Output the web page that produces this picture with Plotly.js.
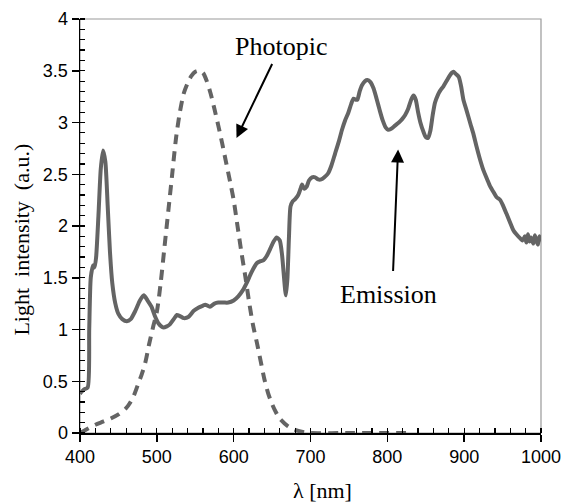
<!DOCTYPE html>
<html><head><meta charset="utf-8">
<script src="https://cdn.plot.ly/plotly-3.0.1.min.js"></script>
<style>html,body{margin:0;padding:0;background:#fff}#chart{width:568px;height:504px}</style>
</head><body><div id="chart"></div><script>
const emissionWavelength = [400,405,410,412,414,417,419,421,424,427,430,433,436,439,442,446,450,455,461,466,472,478,483,488,493,498,502,508,513,517,522,526,530,535,541,548,554,560,563,569,575,580,587,593,600,606,612,617,623,630,635,639,643,647,652,656,660,663,665,667,668,670,672,674,677,680,684,687,689,692,695,698,702,706,710,714,718,723,727,732,737,741,745,749,753,756,759,761,764,767,771,774,778,782,786,790,794,798,801,805,810,815,819,823,827,831,834,837,840,843,847,850,853,856,859,862,866,869,873,877,881,884,886,889,893,896,899,903,908,912,916,920,925,930,934,938,942,947,951,955,960,964,968,973,976,979,981,983,985,987,990,992,994,996,998,1000];
const emissionIntensity = [0.38,0.42,0.44,1.0,1.5,1.62,1.60,1.70,2.1,2.55,2.73,2.62,2.2,1.75,1.45,1.25,1.15,1.10,1.08,1.10,1.18,1.28,1.33,1.28,1.22,1.12,1.06,1.02,1.03,1.05,1.10,1.14,1.13,1.11,1.12,1.18,1.21,1.23,1.24,1.22,1.25,1.26,1.26,1.26,1.28,1.32,1.38,1.45,1.55,1.64,1.66,1.67,1.71,1.77,1.85,1.89,1.86,1.72,1.55,1.38,1.33,1.50,1.90,2.19,2.24,2.26,2.30,2.36,2.40,2.36,2.38,2.44,2.47,2.47,2.45,2.45,2.47,2.51,2.58,2.70,2.82,2.93,3.02,3.09,3.18,3.23,3.22,3.22,3.30,3.36,3.40,3.41,3.39,3.33,3.23,3.12,3.02,2.95,2.93,2.94,2.97,3.00,3.03,3.07,3.13,3.22,3.26,3.22,3.10,3.00,2.91,2.86,2.85,2.92,3.07,3.19,3.27,3.31,3.35,3.40,3.45,3.48,3.49,3.47,3.44,3.35,3.22,3.12,2.99,2.89,2.77,2.66,2.54,2.45,2.38,2.33,2.28,2.25,2.19,2.12,2.03,1.96,1.92,1.88,1.86,1.90,1.84,1.92,1.85,1.89,1.83,1.91,1.86,1.82,1.90,1.85];
const photopicWavelength = [400,410,420,430,440,450,460,465,470,475,480,485,490,495,500,505,510,515,520,525,530,535,540,545,550,555,560,565,570,575,580,585,590,595,600,605,610,615,620,625,630,635,640,645,650,655,660,670,680,690,700,750,800,830];
const photopicIntensity = [0.00,0.04,0.08,0.11,0.14,0.18,0.24,0.29,0.36,0.46,0.56,0.68,0.86,1.02,1.17,1.45,1.80,2.15,2.50,2.85,3.10,3.28,3.38,3.45,3.49,3.50,3.48,3.40,3.28,3.13,2.97,2.80,2.62,2.44,2.25,2.00,1.75,1.52,1.27,1.05,0.88,0.70,0.52,0.38,0.28,0.20,0.14,0.07,0.03,0.01,0.00,0.00,0.00,0.00];
const xTickValues = [400,500,600,700,800,900,1000];
const xTickLabels = ['400','500','600','700','800','900','1000'];
const yTickValues = [0,0.5,1,1.5,2,2.5,3,3.5,4];
const yTickLabels = ['0','0.5','1','1.5','2','2.5','3','3.5','4'];
const xRange = [400,1000];
const yRange = [0,4];

const lineColor = '#646464';
const traces = [
  {x: emissionWavelength, y: emissionIntensity, type:'scatter', mode:'lines', name:'Emission',
   line:{color:lineColor, width:4, shape:'spline', smoothing:0.6}},
  {x: photopicWavelength, y: photopicIntensity, type:'scatter', mode:'lines', name:'Photopic',
   line:{color:lineColor, width:4, dash:'10px,7px', shape:'spline', smoothing:0.8}}
];
const tickFont = {family:'Liberation Sans, Arial, sans-serif', size:18, color:'#000'};
const serif = 'Liberation Serif, Times New Roman, serif';
const layout = {
  width:568, height:504,
  margin:{l:80, r:27, t:19, b:71},
  paper_bgcolor:'#fff', plot_bgcolor:'#fff',
  showlegend:false,
  xaxis:{range:xRange, tickvals:xTickValues, ticktext:xTickLabels, ticks:'outside', ticklen:7, tickwidth:1.5, tickcolor:'#000',
    showline:true, linecolor:'#000', linewidth:1.5, showgrid:false, zeroline:false, tickfont:tickFont,
    minor:{dtick:20, ticks:'inside', ticklen:5, tickwidth:1.2, tickcolor:'#000', showgrid:false}},
  yaxis:{range:yRange, tickvals:yTickValues, ticktext:yTickLabels, ticks:'outside', ticklen:7, tickwidth:1.5, tickcolor:'#000',
    showline:true, linecolor:'#000', linewidth:1.5, showgrid:false, zeroline:false, tickfont:tickFont,
    minor:{dtick:0.1, ticks:'inside', ticklen:5, tickwidth:1.2, tickcolor:'#000', showgrid:false}},
  xaxis2:{overlaying:'x', anchor:'y', matches:'x', range:xRange, tickvals:xTickValues, ticks:'inside', ticklen:7, tickwidth:1.5, tickcolor:'#000',
    showticklabels:false, showline:false, showgrid:false, zeroline:false, side:'bottom'},
  yaxis2:{overlaying:'y', anchor:'x', matches:'y', range:yRange, tickvals:yTickValues, ticks:'inside', ticklen:7, tickwidth:1.5, tickcolor:'#000',
    showticklabels:false, showline:false, showgrid:false, zeroline:false, side:'left'},
  shapes:[{type:'rect', xref:'paper', yref:'paper', x0:0, x1:1, y0:0, y1:1, line:{color:'#999', width:1.2}, layer:'below'}],
  annotations:[
    {xref:'paper', yref:'paper', x:0.527, y:-0.139, text:'λ [nm]', showarrow:false, font:{family:serif, size:22, color:'#000'}, xanchor:'center', yanchor:'middle'},
    {xref:'paper', yref:'paper', x:-0.126, y:0.467, text:'Light\u00a0\u00a0intensity\u00a0\u00a0(a.u.)', textangle:-90, showarrow:false, font:{family:serif, size:22, color:'#000'}, xanchor:'center', yanchor:'middle'},
    {x:662, y:3.73, text:'Photopic', showarrow:false, font:{family:serif, size:26, color:'#000'}, xanchor:'center', yanchor:'middle'},
    {x:801.5, y:1.335, text:'Emission', showarrow:false, font:{family:serif, size:26, color:'#000'}, xanchor:'center', yanchor:'middle'},
    {x:603.7, y:2.85, ax:651, ay:3.58, axref:'x', ayref:'y', text:'', showarrow:true, arrowhead:2, arrowsize:1.3, arrowwidth:2, arrowcolor:'#000', standoff:0},
    {x:814, y:2.74, ax:807.4, ay:1.55, axref:'x', ayref:'y', text:'', showarrow:true, arrowhead:2, arrowsize:1.3, arrowwidth:2, arrowcolor:'#000', standoff:0}
  ]
};
Plotly.newPlot('chart', traces, layout, {displayModeBar:false, staticPlot:true});
</script></body></html>
